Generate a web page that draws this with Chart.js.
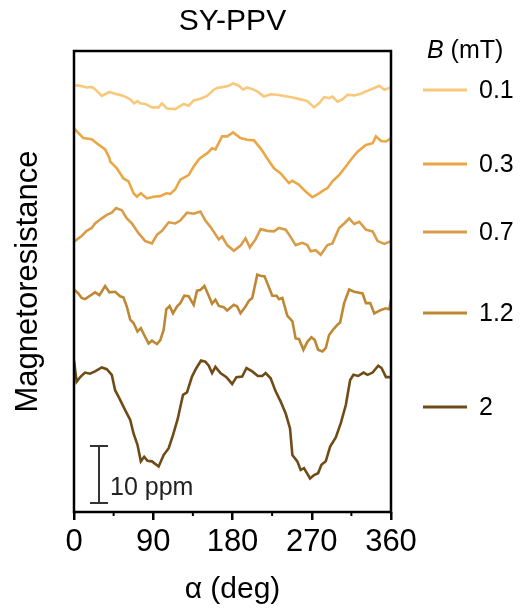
<!DOCTYPE html>
<html>
<head>
<meta charset="utf-8">
<script src="https://cdn.jsdelivr.net/npm/chart.js@4"></script>
<style>
  body { margin: 0; background: #fff; }
</style>
</head>
<body>
<canvas id="mr" width="521" height="610"></canvas>
<script>
// ====== DATA (alpha in deg, magnetoresistance in ppm incl. stacking offset) ======
const fields = ['0.1', '0.3', '0.7', '1.2', '2'];
const colors = ['#f9c87b', '#eba745', '#d99c48', '#bd8733', '#6f4b17'];

const alpha01 = [0, 6.8, 14.4, 20.1, 23.9, 31.5, 40.2, 46.7, 56.2, 63.8, 68.3, 72.1, 75.2, 80.9, 88.5, 96.1, 99.9, 105.6, 115.0, 124.5, 130.2, 135.9, 143.5, 151.1, 158.7, 162.5, 170.1, 175.8, 180.7, 187.2, 192.1, 196.7, 202.4, 208.1, 215.7, 223.3, 230.9, 242.2, 249.8, 257.4, 265.0, 272.6, 278.3, 284.0, 289.7, 293.5, 299.2, 304.9, 310.6, 318.2, 325.8, 331.5, 341.0, 346.7, 352.4, 360];
const mr01 = [75.0, 74.9, 74.6, 74.7, 74.3, 73.1, 73.8, 73.5, 73.1, 72.5, 71.8, 72.2, 71.8, 71.7, 71.1, 71.1, 71.8, 70.9, 70.8, 71.7, 71.4, 72.3, 72.6, 73.1, 74.2, 74.5, 74.7, 74.9, 75.3, 74.9, 74.2, 74.6, 74.3, 73.9, 73.0, 73.4, 73.3, 73.0, 72.8, 72.5, 72.2, 71.1, 71.8, 72.9, 72.7, 73.0, 72.1, 72.5, 73.3, 73.2, 73.5, 73.9, 74.5, 74.9, 74.2, 74.6];

const alpha03 = [0, 4.9, 10.6, 20.1, 25.8, 35.3, 40.2, 41.0, 48.6, 56.2, 61.9, 67.6, 71.4, 75.9, 82.8, 90.4, 98.0, 104.8, 109.4, 115.0, 120.7, 130.2, 135.9, 141.6, 143.5, 151.1, 156.8, 160.6, 168.2, 173.9, 180.7, 189.1, 196.7, 204.3, 211.9, 219.5, 227.1, 234.7, 244.1, 248.0, 255.5, 263.1, 270.7, 278.3, 284.0, 287.8, 293.5, 301.1, 308.7, 314.4, 322.0, 331.5, 339.1, 342.9, 348.6, 354.3, 360];
const mr03 = [67.4, 66.6, 65.7, 65.5, 64.8, 63.7, 62.2, 61.6, 60.4, 58.6, 58.1, 56.0, 55.4, 56.0, 55.1, 55.4, 55.5, 56.0, 55.9, 56.7, 58.4, 59.2, 60.7, 61.9, 62.2, 63.0, 63.9, 63.7, 66.0, 66.0, 66.7, 65.7, 65.4, 65.3, 63.9, 62.1, 60.4, 59.5, 57.8, 58.2, 57.5, 56.3, 55.3, 56.0, 56.6, 56.9, 58.1, 59.2, 60.7, 61.9, 63.3, 64.5, 64.8, 66.0, 65.2, 65.1, 65.7];

const alpha07 = [0, 8.7, 14.4, 20.1, 23.9, 31.5, 37.2, 42.9, 47.8, 54.3, 60.0, 65.7, 73.3, 80.9, 88.5, 94.2, 99.9, 107.5, 115.0, 120.7, 128.3, 135.9, 143.5, 149.2, 154.9, 164.4, 168.2, 173.9, 181.5, 189.1, 194.8, 199.7, 206.2, 211.9, 219.5, 227.1, 232.8, 240.4, 246.1, 251.7, 259.3, 265.0, 268.8, 274.5, 280.2, 287.8, 293.5, 301.1, 306.8, 312.5, 318.2, 323.9, 331.5, 339.1, 344.8, 352.4, 360];
const mr07 = [47.5, 48.5, 49.4, 49.9, 50.7, 51.6, 52.2, 52.6, 53.4, 53.0, 51.6, 50.7, 49.0, 47.6, 47.2, 48.7, 49.4, 50.9, 50.7, 51.2, 52.6, 52.4, 52.8, 51.2, 50.1, 47.9, 48.4, 46.9, 45.9, 46.8, 48.1, 46.5, 47.9, 49.7, 49.4, 49.3, 49.9, 49.6, 48.3, 46.9, 47.3, 46.9, 45.8, 46.0, 45.2, 46.9, 47.2, 49.9, 50.7, 51.6, 50.6, 51.0, 49.6, 49.3, 47.6, 47.1, 47.6];

const alpha12 = [0, 4.9, 8.7, 12.5, 18.2, 23.9, 28.9, 35.3, 40.2, 46.7, 52.4, 56.2, 60.0, 63.8, 67.6, 72.1, 75.9, 79.7, 84.7, 88.5, 94.2, 98.0, 101.8, 104.8, 108.6, 112.4, 116.9, 120.7, 125.3, 130.2, 135.9, 139.7, 143.5, 148.1, 151.9, 156.8, 160.6, 164.4, 170.1, 173.9, 181.5, 185.3, 189.1, 194.8, 198.6, 202.4, 208.1, 211.9, 216.4, 225.2, 230.1, 232.8, 236.6, 242.2, 248.0, 251.7, 255.5, 260.5, 265.0, 269.6, 273.4, 277.2, 282.1, 285.9, 289.7, 293.5, 299.2, 302.2, 306.8, 312.5, 318.2, 327.7, 331.5, 336.4, 341.0, 348.6, 354.3, 358.1, 360];
const mr12 = [39.1, 38.4, 37.6, 37.4, 38.0, 38.6, 38.1, 39.7, 38.6, 38.7, 37.9, 37.7, 36.1, 33.8, 33.2, 31.7, 32.3, 31.1, 29.6, 30.1, 29.5, 30.2, 32.0, 35.6, 36.2, 34.9, 36.1, 36.7, 38.0, 37.9, 36.4, 38.9, 39.0, 39.7, 38.4, 36.6, 37.3, 36.2, 36.0, 35.4, 36.4, 36.1, 34.9, 36.1, 37.1, 37.6, 41.7, 41.5, 41.4, 38.0, 38.0, 37.4, 37.6, 34.5, 33.5, 30.5, 30.4, 28.5, 29.9, 30.7, 30.2, 28.5, 28.2, 28.8, 31.1, 31.9, 32.9, 33.3, 36.7, 39.1, 38.7, 38.4, 36.7, 36.7, 34.9, 35.5, 35.8, 35.6, 37.3];

const alpha2 = [0, 3.0, 7.6, 12.5, 18.2, 23.9, 31.5, 37.2, 42.9, 46.7, 52.4, 58.1, 63.8, 67.6, 72.1, 75.9, 79.7, 83.5, 88.5, 96.1, 101.8, 107.5, 112.4, 117.7, 123.8, 128.3, 134.0, 139.0, 144.3, 149.2, 153.0, 156.8, 160.6, 166.3, 173.1, 179.6, 184.5, 191.0, 195.9, 202.4, 208.8, 213.8, 217.6, 223.3, 229.0, 234.7, 240.4, 245.3, 248.0, 253.6, 257.4, 261.2, 268.1, 272.6, 277.2, 281.0, 285.9, 290.9, 297.3, 303.0, 308.7, 313.6, 317.4, 322.7, 328.8, 333.4, 339.1, 345.5, 349.3, 354.3, 360];
const mr2 = [26.6, 22.9, 23.8, 24.5, 24.3, 24.7, 25.4, 25.1, 24.1, 21.4, 19.7, 17.9, 16.2, 13.8, 11.8, 8.9, 9.7, 9.0, 8.9, 8.0, 10.0, 11.2, 13.5, 16.3, 20.6, 21.0, 23.8, 25.3, 26.6, 26.4, 25.7, 24.4, 25.5, 24.4, 23.7, 22.5, 23.7, 23.8, 25.3, 24.7, 23.9, 23.9, 24.4, 23.5, 21.2, 19.4, 17.3, 14.7, 10.0, 8.9, 7.4, 7.7, 5.9, 6.5, 6.8, 8.3, 8.9, 11.5, 13.1, 15.6, 18.8, 23.2, 24.1, 23.9, 24.5, 24.1, 24.5, 25.7, 25.3, 23.7, 23.7];

const angleSets = [alpha01, alpha03, alpha07, alpha12, alpha2];
const valueSets = [mr01, mr03, mr07, mr12, mr2];

const xTicks = [0, 90, 180, 270, 360];
const xMinorTicks = [45, 135, 225, 315];
const scaleBarPpm = 10;

// ====== HELPERS ======
const FONT = "'Liberation Sans', Arial, Helvetica, sans-serif";
Chart.defaults.font.family = FONT;
Chart.defaults.color = '#000';

function zip(xs, ys) {
  return xs.map((x, i) => ({ x, y: ys[i] }));
}

// ====== PLUGINS ======
const decorPlugin = {
  id: 'decor',
  afterDraw(chart) {
    const { ctx, chartArea: a, scales: { x, y } } = chart;
    ctx.save();

    // frame
    ctx.strokeStyle = '#000';
    ctx.lineWidth = 2.5;
    ctx.strokeRect(a.left, a.top, a.right - a.left, a.bottom - a.top);

    // minor ticks
    ctx.lineWidth = 2;
    xMinorTicks.forEach(v => {
      const px = x.getPixelForValue(v);
      ctx.beginPath();
      ctx.moveTo(px, a.bottom);
      ctx.lineTo(px, a.bottom + 4);
      ctx.stroke();
    });

    // title
    ctx.fillStyle = '#000';
    ctx.font = `30px ${FONT}`;
    ctx.textAlign = 'center';
    ctx.textBaseline = 'middle';
    ctx.fillText('SY-PPV', (a.left + a.right) / 2, 22);

    // scale bar (10 ppm)
    const bx = x.getPixelForValue(28.4);
    const y0 = y.getPixelForValue(1.6);
    const y1 = y.getPixelForValue(1.6 + scaleBarPpm);
    ctx.strokeStyle = '#333';
    ctx.lineWidth = 2;
    ctx.beginPath();
    ctx.moveTo(bx, y0); ctx.lineTo(bx, y1);
    ctx.moveTo(bx - 9, y0); ctx.lineTo(bx + 9, y0);
    ctx.moveTo(bx - 9, y1); ctx.lineTo(bx + 9, y1);
    ctx.stroke();
    ctx.fillStyle = '#222';
    ctx.font = `25px ${FONT}`;
    ctx.textAlign = 'left';
    ctx.fillText(scaleBarPpm + ' ppm', bx + 11, y0 - 15);

    // legend
    const lx = 427;
    ctx.fillStyle = '#000';
    ctx.font = `italic 25px ${FONT}`;
    ctx.fillText('B', lx, 51);
    const bw = ctx.measureText('B').width;
    ctx.font = `25px ${FONT}`;
    ctx.fillText(' (mT)', lx + bw, 51);

    const rows = [90, 164, 232, 313, 407];
    fields.forEach((f, i) => {
      ctx.strokeStyle = colors[i];
      ctx.lineWidth = 3;
      ctx.beginPath();
      ctx.moveTo(423, rows[i]);
      ctx.lineTo(467, rows[i]);
      ctx.stroke();
      ctx.fillStyle = '#000';
      ctx.fillText(f, 479, rows[i] + 1);
    });

    ctx.restore();
  }
};

// ====== CHART ======
new Chart(document.getElementById('mr'), {
  type: 'line',
  data: {
    datasets: fields.map((f, i) => ({
      label: f,
      data: zip(angleSets[i], valueSets[i]),
      borderColor: colors[i],
      borderWidth: 2.6,
      pointRadius: 0,
      tension: 0,
      fill: false
    }))
  },
  options: {
    responsive: false,
    animation: false,
    layout: { padding: { top: 51, right: 130, left: 0, bottom: 0 } },
    plugins: {
      legend: { display: false },
      tooltip: { enabled: false },
      title: { display: false }
    },
    scales: {
      x: {
        type: 'linear',
        min: 0,
        max: 360,
        afterBuildTicks: s => { s.ticks = xTicks.map(v => ({ value: v })); },
        ticks: { font: { size: 31 }, color: '#000', padding: 4, maxRotation: 0 },
        grid: { drawOnChartArea: false, tickLength: 8, lineWidth: 2.5, color: '#000' },
        border: { display: false },
        title: { display: true, text: 'α (deg)', font: { size: 30 }, color: '#000', padding: { top: 0, bottom: 2 } },
        afterFit: s => { s.height = 98; }
      },
      y: {
        min: 0,
        max: 81,
        ticks: { display: false },
        grid: { display: false },
        border: { display: false },
        title: { display: true, text: 'Magnetoresistance', font: { size: 31 }, color: '#000', padding: { top: 10, bottom: 0 } },
        afterFit: s => { s.width = 74; }
      }
    }
  },
  plugins: [decorPlugin]
});
</script>
</body>
</html>
